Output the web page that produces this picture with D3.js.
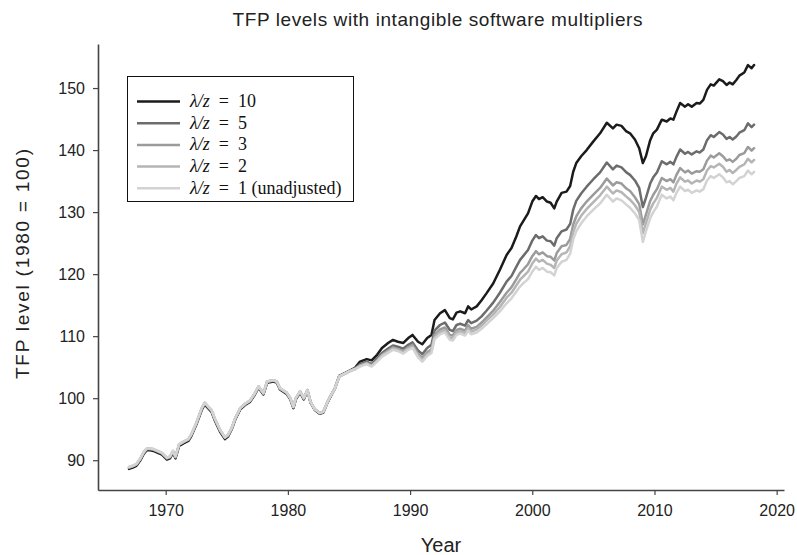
<!DOCTYPE html>
<html><head><meta charset="utf-8">
<script src="https://cdn.jsdelivr.net/npm/d3@7"></script>
<style>body{margin:0;background:#fff}</style>
</head><body>
<svg id="c" width="797" height="555"></svg>
<script>
const years = [1967.0,1967.3,1967.6,1967.9,1968.2,1968.45,1968.75,1969.0,1969.35,1969.7,1970.1,1970.35,1970.6,1970.8,1971.1,1971.45,1971.85,1972.1,1972.5,1972.95,1973.2,1973.5,1973.75,1974.0,1974.45,1974.85,1975.1,1975.4,1975.7,1976.1,1976.5,1976.9,1977.3,1977.6,1978.0,1978.3,1978.8,1979.1,1979.35,1979.9,1980.2,1980.45,1980.65,1981.0,1981.3,1981.6,1981.85,1982.2,1982.6,1982.9,1983.2,1983.45,1983.85,
1984.2,1984.7,1985.1,1985.5,1985.9,1986.45,1986.85,1987.3,1987.7,1988.2,1988.6,1989.0,1989.45,1989.85,1990.2,1990.65,1991.0,1991.4,1991.75,1992.0,1992.45,1992.85,1993.25,1993.5,1993.8,1994.1,1994.5,1994.75,1995.0,1995.45,1995.85,1996.25,1996.8,1997.35,1997.9,1998.3,1998.7,1999.0,1999.25,1999.65,2000.0,2000.3,2000.55,2000.85,2001.2,2001.5,2001.8,2002.0,2002.4,2002.8,2003.1,2003.35,2003.6,2004.0,2004.45,2005.0,2005.55,2006.1,2006.6,2006.9,2007.3,2007.7,2008.0,2008.4,2008.75,2009.05,2009.3,2009.65,2009.9,2010.2,2010.6,2011.0,2011.3,2011.55,2011.8,2012.1,2012.5,2012.75,2013.05,2013.45,2013.7,2014.0,2014.3,2014.6,2014.85,2015.3,2015.6,2015.9,2016.15,2016.4,2016.7,2016.95,2017.35,2017.65,2017.95,2018.15];

const tfp10 = [88.6,88.8,89.1,89.9,91.0,91.6,91.6,91.5,91.2,90.9,90.1,90.3,91.2,90.3,92.3,92.7,93.1,93.9,95.7,98.1,99.0,98.3,97.8,96.5,94.6,93.4,93.8,95.0,96.6,98.2,98.9,99.4,100.6,101.7,100.6,102.5,102.7,102.5,101.4,100.7,99.8,98.4,99.8,100.9,99.8,101.2,99.3,98.1,97.5,97.7,99.1,100.1,101.6,
103.6,104.1,104.5,104.9,105.9,106.3,106.1,107.0,108.1,108.9,
109.4,109.1,108.9,109.7,110.2,109.1,108.7,109.7,110.2,112.6,
113.7,114.2,112.9,112.7,113.8,114.0,113.7,114.8,114.3,114.8,
115.8,116.9,118.5,120.7,123.1,124.2,126.1,127.7,128.5,129.8,
131.7,132.6,132.1,132.4,131.7,131.5,130.6,131.7,133.1,133.3,
134.2,136.5,137.9,139.0,140.0,141.4,142.7,144.4,143.5,144.1,
143.9,143.0,142.7,141.7,140.3,137.9,139.0,141.6,142.7,143.3,
144.9,144.6,145.1,144.9,146.2,147.6,147.0,147.4,147.0,147.6,
147.5,148.1,149.7,150.6,150.4,151.4,151.1,150.5,150.9,150.6,
151.3,152.0,152.5,153.7,153.2,153.7];

const tfp5 = [88.8,89.0,89.3,90.1,91.2,91.8,91.8,91.7,91.4,91.1,90.3,90.5,91.4,90.5,92.5,92.9,93.3,94.1,95.9,98.3,99.2,98.5,98.0,96.7,94.8,93.6,94.0,95.1,96.7,98.3,99.0,99.5,100.7,101.8,100.7,102.6,102.8,102.6,101.5,100.8,99.9,98.5,99.9,101.0,99.9,101.3,99.4,98.2,97.6,97.8,99.2,100.2,101.6,
103.5,104.0,104.4,104.8,105.5,105.9,105.5,106.4,107.3,108.0,
108.5,108.3,108.0,108.6,109.0,107.7,107.1,108.1,108.6,110.9,
111.8,112.2,111.0,110.8,111.8,112.0,111.7,112.6,112.1,112.5,
113.2,114.1,115.4,117.0,118.8,119.7,121.2,122.3,122.9,123.9,
125.4,126.3,125.8,126.1,125.4,125.3,124.6,125.8,126.9,127.2,
128.1,130.4,131.8,133.0,134.1,135.3,136.4,138.0,136.9,137.5,
137.2,136.4,136.0,135.1,133.9,130.8,132.3,134.6,135.6,136.4,
138.2,137.7,138.1,137.7,138.9,140.1,139.4,139.7,139.3,139.8,
139.6,140.1,141.6,142.4,142.1,142.9,142.5,141.8,142.1,141.7,
142.2,142.8,143.2,144.3,143.7,144.1];

const tfp3 = [88.8,89.0,89.3,90.1,91.2,91.8,91.8,91.7,91.4,91.1,90.3,90.5,91.4,90.5,92.5,92.9,93.3,94.1,95.9,98.3,99.2,98.5,98.0,96.7,94.8,93.6,94.0,95.2,96.8,98.4,99.1,99.6,100.8,101.9,100.8,102.7,102.9,102.7,101.6,100.9,100.0,98.6,100.0,101.1,100.0,101.3,99.4,98.2,97.6,97.8,99.2,100.2,101.6,
103.5,104.0,104.4,104.7,105.3,105.7,105.3,106.1,107.0,107.7,
108.2,107.9,107.6,108.2,108.6,107.2,106.5,107.4,107.9,110.2,
111.1,111.4,110.2,110.1,111.0,111.2,110.9,111.8,111.2,111.5,
112.2,113.0,114.1,115.5,117.0,117.9,119.2,120.2,120.7,121.6,
122.9,123.7,123.2,123.5,122.9,122.8,122.2,123.4,124.5,124.7,
125.7,128.0,129.3,130.6,131.7,132.8,133.9,135.4,134.3,134.8,
134.6,133.8,133.4,132.4,131.3,128.0,129.6,131.8,132.8,133.7,
135.5,135.0,135.3,134.8,136.0,137.1,136.4,136.7,136.2,136.6,
136.5,136.9,138.3,139.1,138.8,139.5,139.0,138.3,138.5,138.1,
138.6,139.2,139.5,140.5,139.9,140.3];

const tfp2 = [88.9,89.1,89.4,90.2,91.3,91.9,91.9,91.8,91.5,91.2,90.4,90.6,91.5,90.6,92.6,93.0,93.4,94.2,96.0,98.4,99.3,98.6,98.1,96.8,94.9,93.7,94.1,95.2,96.8,98.4,99.1,99.6,100.8,101.9,100.8,102.7,102.9,102.7,101.6,100.9,100.0,98.6,100.0,101.1,100.0,101.3,99.4,98.2,97.6,97.8,99.2,100.2,101.6,
103.5,104.0,104.4,104.7,105.2,105.6,105.2,106.0,106.9,107.5,
108.0,107.8,107.4,108.0,108.3,106.9,106.2,107.1,107.6,109.8,
110.7,111.0,109.8,109.7,110.6,110.8,110.5,111.3,110.7,111.1,
111.7,112.5,113.5,114.7,116.2,117.0,118.2,119.1,119.6,120.4,
121.7,122.5,122.0,122.3,121.7,121.5,121.0,122.2,123.2,123.5,
124.5,126.8,128.1,129.4,130.5,131.6,132.7,134.1,133.0,133.5,
133.2,132.5,132.0,131.1,130.0,126.6,128.2,130.4,131.4,132.3,
134.1,133.6,133.9,133.3,134.6,135.6,134.9,135.1,134.6,135.1,
134.9,135.3,136.7,137.4,137.2,137.8,137.3,136.5,136.8,136.3,
136.8,137.3,137.7,138.6,138.0,138.4];

const tfp1 = [88.9,89.1,89.4,90.2,91.3,91.9,91.9,91.8,91.5,91.2,90.4,90.6,91.5,90.6,92.6,93.0,93.4,94.2,96.0,98.4,99.3,98.6,98.1,96.8,94.9,93.7,94.1,95.2,96.8,98.4,99.1,99.6,100.8,101.9,100.8,102.7,102.9,102.7,101.6,100.9,100.0,98.6,100.0,101.1,100.0,101.3,99.4,98.2,97.6,97.8,99.2,100.2,101.6,
103.5,104.0,104.4,104.7,105.1,105.5,105.1,105.9,106.7,107.3,
107.8,107.6,107.2,107.8,108.1,106.6,105.9,106.8,107.3,109.5,
110.3,110.6,109.4,109.3,110.2,110.4,110.1,110.9,110.3,110.6,
111.2,111.9,112.9,114.0,115.3,116.1,117.2,118.0,118.5,119.2,
120.4,121.2,120.7,121.0,120.4,120.3,119.8,121.0,122.0,122.3,
123.3,125.6,126.9,128.2,129.3,130.4,131.4,132.8,131.7,132.2,
131.9,131.2,130.7,129.8,128.7,125.2,126.9,129.0,130.0,130.9,
132.8,132.2,132.5,131.9,133.1,134.1,133.4,133.6,133.1,133.5,
133.3,133.7,135.1,135.8,135.5,136.1,135.6,134.8,135.0,134.5,
135.0,135.5,135.8,136.7,136.1,136.5];

const seriesNames = ["10", "5", "3", "2", "1 (unadjusted)"];
const seriesColors = ["#1b1b1b", "#6c6c6c", "#9b9b9b", "#b5b5b5", "#d3d3d3"];
const seriesValues = [tfp10, tfp5, tfp3, tfp2, tfp1];
const xTicks = [1970, 1980, 1990, 2000, 2010, 2020];
const yTicks = [90, 100, 110, 120, 130, 140, 150];

const svg = d3.select("#c");
const x = d3.scaleLinear().domain([1964.46, 2020.6]).range([98, 784]);
const y = d3.scaleLinear().domain([85.2, 157.1]).range([490, 44]);
const sans = "'Liberation Sans', Arial, Helvetica, sans-serif";
const serif = "'Liberation Serif', 'Times New Roman', serif";
const axisCol = "#444";

// axes
const gx = svg.append("g").attr("transform", "translate(0,490)")
  .call(d3.axisBottom(x).tickValues(xTicks).tickFormat(d3.format("d")).tickSizeInner(5).tickSizeOuter(0).tickPadding(10));
const gy = svg.append("g").attr("transform", "translate(98,0)")
  .call(d3.axisLeft(y).tickValues(yTicks).tickSizeInner(5).tickSizeOuter(0).tickPadding(8));
[gx, gy].forEach(g => {
  g.select(".domain").attr("stroke", axisCol).attr("stroke-width", 1.6);
  g.selectAll(".tick line").attr("stroke", axisCol).attr("stroke-width", 1.2);
  g.selectAll(".tick text").attr("fill", "#222").style("font-family", sans).style("font-size", "16px");
});
gy.selectAll(".tick text").attr("dy", "0.35em");

// lines
const line = d3.line().x((d, i) => x(years[i])).y(d => y(d));
seriesValues.forEach((vals, k) => {
  svg.append("path").datum(vals).attr("d", line)
    .attr("fill", "none").attr("stroke", seriesColors[k])
    .attr("stroke-width", 2.5).attr("stroke-linejoin", "round").attr("stroke-linecap", "round");
});

// title & labels
svg.append("text").attr("x", 437.5).attr("y", 26).attr("text-anchor", "middle")
  .style("font-family", sans).style("font-size", "19px").attr("fill", "#222")
  .attr("textLength", 410).attr("lengthAdjust", "spacing")
  .text("TFP levels with intangible software multipliers");
svg.append("text").attr("x", 441).attr("y", 552).attr("text-anchor", "middle")
  .style("font-family", sans).style("font-size", "20px").attr("fill", "#222")
  .text("Year");
svg.append("text").attr("transform", "translate(29,264) rotate(-90)").attr("text-anchor", "middle")
  .style("font-family", sans).style("font-size", "19px").attr("fill", "#222")
  .attr("textLength", 230).attr("lengthAdjust", "spacing")
  .text("TFP level (1980 = 100)");

// legend
const lg = svg.append("g");
lg.append("rect").attr("x", 127.5).attr("y", 76.5).attr("width", 226).attr("height", 125)
  .attr("fill", "#fff").attr("stroke", "#111").attr("stroke-width", 1);
seriesNames.forEach((nm, k) => {
  const yy = 101.5 + k * 21.7;
  lg.append("line").attr("x1", 137).attr("x2", 180).attr("y1", yy).attr("y2", yy)
    .attr("stroke", seriesColors[k]).attr("stroke-width", 2.5);
  const t = lg.append("text").attr("x", 190).attr("y", yy + 5.5)
    .style("font-family", serif).style("font-size", "18px").attr("fill", "#111");
  t.append("tspan").style("font-style", "italic").text("λ/z");
  t.append("tspan").text("\u2002=\u2002" + nm);
});
</script>
</body></html>
